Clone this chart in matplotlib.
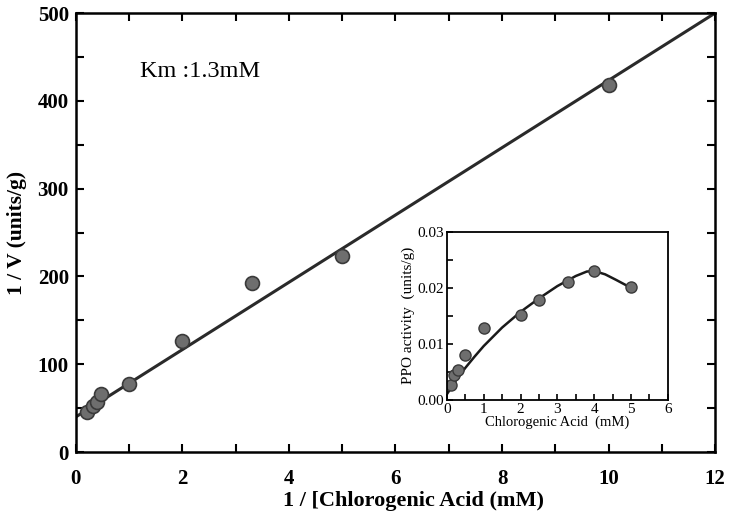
import matplotlib.pyplot as plt
from matplotlib.ticker import MultipleLocator

# Dados principais (Lineweaver-Burk)
inv_s = [0.21, 0.32, 0.40, 0.48, 1.0, 2.0, 3.3, 5.0, 10.0]
inv_v = [46, 52, 57, 66, 77, 127, 192, 223, 418]
linha_x = [0, 12]
linha_y = [40, 500]

# Dados do gráfico interno (atividade PPO)
conc = [0.1, 0.2, 0.3, 0.5, 1.0, 2.0, 2.5, 3.3, 4.0, 5.0]
atividade = [0.0027, 0.0045, 0.0053, 0.0080, 0.0129, 0.0151, 0.0178, 0.0210, 0.0230, 0.0202]
curva_x = [0.0, 0.25, 0.5, 0.75, 1.0, 1.5, 2.0, 2.5, 3.0, 3.5, 3.8, 4.0, 4.3, 4.6, 5.0]
curva_y = [0.0010, 0.0035, 0.0057, 0.0077, 0.0096, 0.0129, 0.0157, 0.0181, 0.0203, 0.0221, 0.0229, 0.0230, 0.0224, 0.0214, 0.0200]

plt.rcParams['font.family'] = ['Liberation Serif', 'DejaVu Serif']

fig = plt.figure(figsize=(7.29, 5.22), dpi=100)
ax = fig.add_axes([0.104, 0.134, 0.877, 0.841])
ax.plot(linha_x, linha_y, color='#2a2a2a', lw=2.2)
ax.plot(inv_s, inv_v, 'o', ms=10, mfc='#6e6e6e', mec='#3a3a3a', mew=1.2)
ax.set_xlim(0, 12)
ax.set_ylim(0, 500)
ax.xaxis.set_major_locator(MultipleLocator(2))
ax.xaxis.set_minor_locator(MultipleLocator(1))
ax.yaxis.set_major_locator(MultipleLocator(100))
ax.yaxis.set_minor_locator(MultipleLocator(50))
ax.tick_params(which='both', direction='in', top=True, right=True, length=6, width=1.5)
ax.tick_params(axis='x', labelsize=15, pad=12)
ax.tick_params(axis='y', labelsize=15, pad=5)
for lab in ax.get_xticklabels() + ax.get_yticklabels():
    lab.set_fontweight('bold')
for s in ax.spines.values():
    s.set_linewidth(1.8)
ax.set_xlabel('1 / [Chlorogenic Acid (mM)', fontsize=16, fontweight='bold', labelpad=2)
ax.xaxis.label.set_x(0.528)
ax.set_ylabel('1 / V (units/g)', fontsize=15.5, fontweight='bold', labelpad=8)
ax.text(1.2, 433, 'Km :1.3mM', fontsize=17.5, va='center')

# Gráfico interno
ins = fig.add_axes([0.613, 0.234, 0.303, 0.322])
ins.plot(curva_x, curva_y, color='#1a1a1a', lw=1.8)
ins.plot(conc, atividade, 'o', ms=8, mfc='#6e6e6e', mec='#3a3a3a', mew=1)
ins.set_xlim(0, 6)
ins.set_ylim(0, 0.03)
ins.xaxis.set_major_locator(MultipleLocator(1))
ins.xaxis.set_minor_locator(MultipleLocator(0.5))
ins.yaxis.set_major_locator(MultipleLocator(0.01))
ins.yaxis.set_minor_locator(MultipleLocator(0.005))
ins.yaxis.set_major_formatter(plt.FormatStrFormatter('%.2f'))
ins.tick_params(which='both', direction='in', length=4, width=1.2, labelsize=11, pad=2)
for s in ins.spines.values():
    s.set_linewidth(1.3)
ins.set_xlabel('Chlorogenic Acid  (mM)', fontsize=10.5, labelpad=0)
ins.set_ylabel('PPO activity  (units/g)', fontsize=11, labelpad=2)

fig.savefig('out.png', dpi=100)
